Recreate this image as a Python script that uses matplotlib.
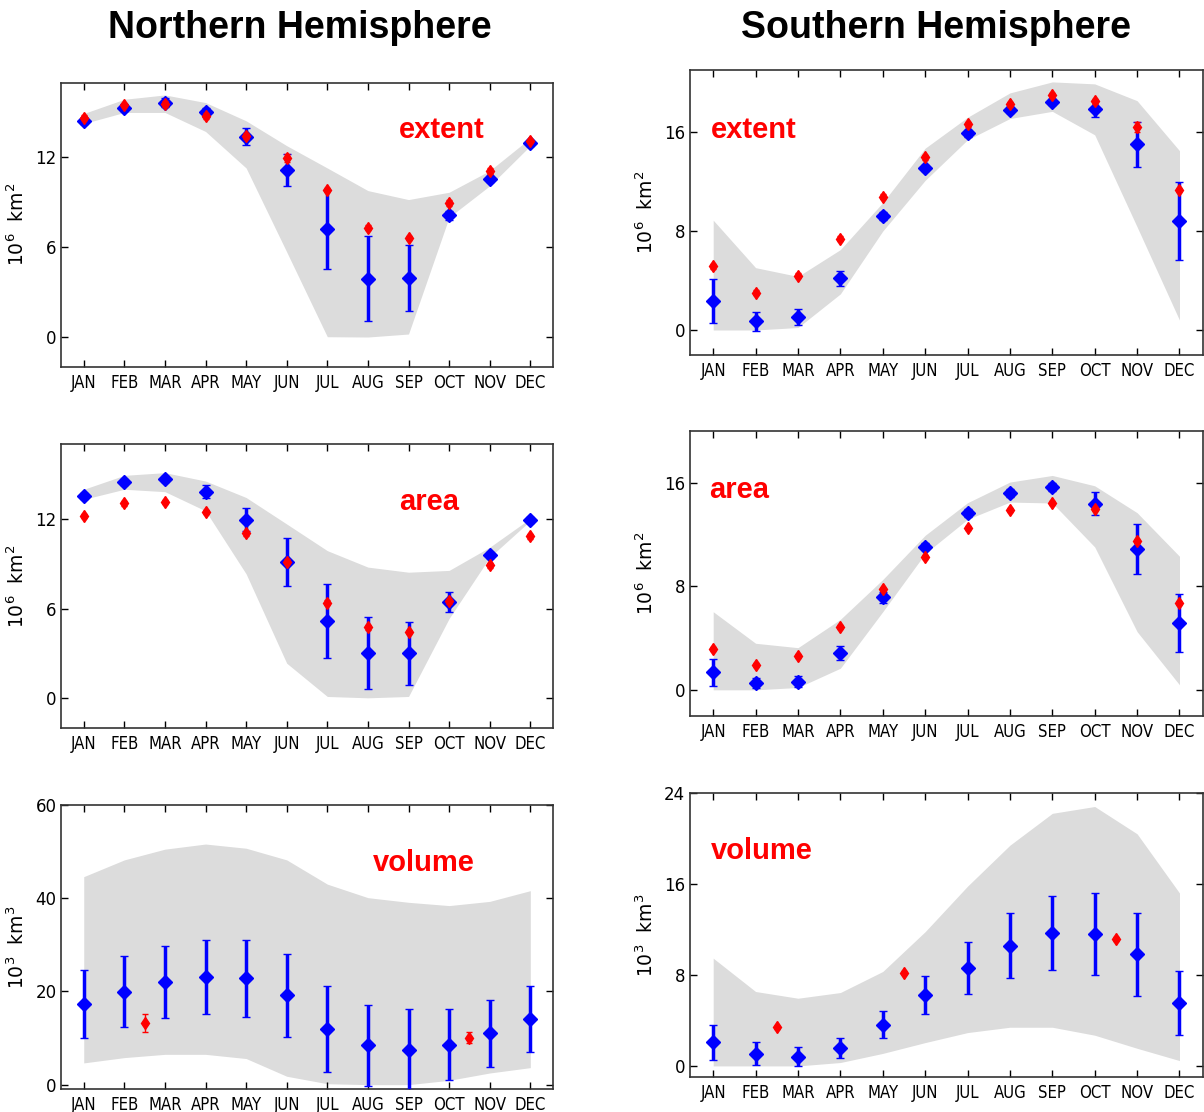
import numpy as np
import matplotlib
matplotlib.use('Agg')
import matplotlib.pyplot as plt
from matplotlib import font_manager
from matplotlib.font_manager import FontProperties

MONTHS = ['JAN', 'FEB', 'MAR', 'APR', 'MAY', 'JUN',
          'JUL', 'AUG', 'SEP', 'OCT', 'NOV', 'DEC']
MONTH_X = np.arange(1, 13)

# Northern Hemisphere extent (10^6 km^2)
nh_ext_lo = [14.26, 15.0, 15.0, 13.73, 11.29, 5.68, 0.02, 0.0, 0.2, 8.0, 10.1, 12.78]
nh_ext_hi = [14.93, 15.88, 16.17, 15.66, 14.44, 12.78, 11.29, 9.78, 9.18, 9.67, 11.11, 13.29]
nh_ext_mean = [14.44, 15.33, 15.64, 15.0, 13.38, 11.16, 7.19, 3.9, 3.97, 8.12, 10.56, 12.95]
nh_ext_std = [0.2, 0.25, 0.3, 0.3, 0.58, 1.09, 2.66, 2.83, 2.2, 0.3, 0.2, 0.2]
nh_ext_obs = [14.66, 15.5, 15.55, 14.77, 13.44, 11.96, 9.83, 7.3, 6.63, 8.96, 11.11, 13.11]
nh_ext_obs_err = [0.15, 0.15, 0.2, 0.2, 0.2, 0.25, 0.15, 0.15, 0.15, 0.2, 0.2, 0.15]

# Southern Hemisphere extent (10^6 km^2)
sh_ext_lo = [0.0, 0.0, 0.2, 2.92, 8.0, 12.1, 15.38, 17.1, 17.68, 15.78, 8.34, 0.8]
sh_ext_hi = [8.88, 5.04, 4.33, 6.5, 10.3, 14.7, 17.2, 19.17, 20.06, 19.9, 18.54, 14.5]
sh_ext_mean = [2.33, 0.7, 1.08, 4.17, 9.23, 13.07, 15.89, 17.76, 18.46, 17.87, 15.0, 8.8]
sh_ext_std = [1.76, 0.77, 0.65, 0.62, 0.3, 0.25, 0.25, 0.25, 0.25, 0.65, 1.8, 3.14]
sh_ext_obs = [5.17, 3.03, 4.39, 7.39, 10.77, 13.97, 16.65, 18.27, 18.98, 18.49, 16.4, 11.32]
sh_ext_obs_err = [0.2, 0.2, 0.2, 0.2, 0.2, 0.2, 0.2, 0.2, 0.2, 0.2, 0.4, 0.2]

# Northern Hemisphere area (10^6 km^2)
nh_area_lo = [13.3, 13.97, 13.81, 12.53, 8.32, 2.35, 0.13, 0.04, 0.13, 5.34, 9.43, 11.87]
nh_area_hi = [13.97, 14.9, 15.08, 14.52, 13.42, 11.65, 9.87, 8.77, 8.43, 8.55, 10.1, 12.02]
nh_area_mean = [13.53, 14.46, 14.63, 13.81, 11.95, 9.1, 5.16, 3.01, 3.01, 6.44, 9.56, 11.91]
nh_area_std = [0.2, 0.2, 0.2, 0.44, 0.75, 1.6, 2.49, 2.4, 2.12, 0.69, 0.2, 0.2]
nh_area_obs = [12.2, 13.02, 13.13, 12.46, 11.02, 9.14, 6.4, 4.74, 4.45, 6.49, 8.88, 10.83]
nh_area_obs_err = [0.15] * 12

# Southern Hemisphere area (10^6 km^2)
sh_area_lo = [0.0, 0.0, 0.18, 1.67, 6.04, 10.54, 13.19, 14.52, 14.45, 11.05, 4.5, 0.39]
sh_area_hi = [6.04, 3.6, 3.26, 5.45, 8.53, 11.95, 14.47, 16.07, 16.58, 15.78, 13.7, 10.33]
sh_area_mean = [1.34, 0.51, 0.64, 2.83, 7.15, 11.08, 13.65, 15.25, 15.66, 14.4, 10.9, 5.14]
sh_area_std = [1.03, 0.4, 0.4, 0.54, 0.4, 0.3, 0.3, 0.3, 0.3, 0.9, 1.93, 2.25]
sh_area_obs = [3.14, 1.9, 2.6, 4.88, 7.76, 10.28, 12.54, 13.93, 14.47, 13.96, 11.52, 6.74]
sh_area_obs_err = [0.15] * 12

# Northern Hemisphere volume (10^3 km^3)
nh_vol_lo = [4.66, 5.8, 6.5, 6.5, 5.6, 1.8, 0.2, 0.0, 0.0, 0.93, 2.5, 3.65]
nh_vol_hi = [44.6, 48.2, 50.5, 51.6, 50.7, 48.2, 43.0, 40.1, 39.1, 38.4, 39.3, 41.6]
nh_vol_mean = [17.3, 19.9, 22.0, 23.1, 22.8, 19.2, 12.0, 8.4, 7.5, 8.6, 11.0, 14.1]
nh_vol_std = [7.3, 7.6, 7.8, 7.95, 8.2, 8.9, 9.2, 8.6, 8.7, 7.7, 7.15, 7.05]
nh_vol_obs_x = [2.5, 10.5]
nh_vol_obs = [13.25, 10.1]
nh_vol_obs_err = [1.86, 1.25]

# Southern Hemisphere volume (10^3 km^3)
sh_vol_lo = [0.0, 0.0, 0.0, 0.3, 1.1, 2.05, 2.93, 3.4, 3.4, 2.7, 1.55, 0.47]
sh_vol_hi = [9.47, 6.54, 5.95, 6.45, 8.3, 11.8, 15.8, 19.4, 22.2, 22.8, 20.4, 15.2]
sh_vol_mean = [2.08, 1.06, 0.8, 1.55, 3.64, 6.22, 8.6, 10.56, 11.67, 11.6, 9.8, 5.51]
sh_vol_std = [1.54, 1.0, 0.85, 0.88, 1.17, 1.7, 2.27, 2.86, 3.25, 3.6, 3.62, 2.8]
sh_vol_obs_x = [2.5, 5.5, 10.5]
sh_vol_obs = [3.4, 8.2, 11.17]
sh_vol_obs_err = [0.15, 0.15, 0.15]


def month_font():
    # the month labels in the original are a condensed DejaVu
    for f in font_manager.fontManager.ttflist:
        if f.fname.endswith('DejaVuSansCondensed.ttf'):
            return FontProperties(fname=f.fname, size=12)
    names = {f.name for f in font_manager.fontManager.ttflist}
    if 'Liberation Sans Narrow' in names:
        return FontProperties(family='Liberation Sans Narrow', size=12)
    return FontProperties(family='DejaVu Sans', size=9)


def draw_panel(ax, lo, hi, mean, std, obs_x, obs, obs_err,
               ylim, yticks, ylabel, label, label_x, label_y):
    ax.fill_between(MONTH_X, lo, hi, color='#dcdcdc', linewidth=0, zorder=1)
    ax.errorbar(MONTH_X, mean, yerr=std, fmt='D', color='blue', ms=7.5,
                mec='blue', elinewidth=2.5, capsize=3, capthick=1, zorder=3)
    ax.errorbar(obs_x, obs, yerr=obs_err, fmt='d', color='red', ms=6.5,
                mec='red', elinewidth=1, capsize=2.5, capthick=1, zorder=4)
    ax.set_xlim(0.45, 12.55)
    ax.set_ylim(*ylim)
    ax.set_yticks(yticks)
    ax.set_xticks(MONTH_X)
    ax.set_xticklabels(MONTHS, fontproperties=mfont)
    ax.tick_params(direction='in', top=True, right=True, length=5, width=1,
                   labelsize=12, colors='black')
    ax.tick_params(axis='x', pad=5)
    for s in ax.spines.values():
        s.set_linewidth(1.2)
        s.set_color('#333333')
    ax.set_ylabel(ylabel, fontsize=13.5, labelpad=5)
    ax.text(label_x, label_y, label, transform=ax.transAxes, color='red',
            fontsize=21, fontweight='bold', family='Liberation Sans',
            ha='left', va='center')


mfont = month_font()
fig = plt.figure(figsize=(12.04, 11.12), dpi=100)

area_lbl = '10$^6$  km$^2$'
vol_lbl = '10$^3$  km$^3$'

ax = fig.add_axes([0.051, 0.670, 0.408, 0.2558])
draw_panel(ax, nh_ext_lo, nh_ext_hi, nh_ext_mean, nh_ext_std,
           MONTH_X, nh_ext_obs, nh_ext_obs_err,
           (-2, 17), [0, 6, 12], area_lbl, 'extent', 0.687, 0.832)

ax = fig.add_axes([0.573, 0.681, 0.426, 0.2558])
draw_panel(ax, sh_ext_lo, sh_ext_hi, sh_ext_mean, sh_ext_std,
           MONTH_X, sh_ext_obs, sh_ext_obs_err,
           (-2, 21), [0, 8, 16], area_lbl, 'extent', 0.041, 0.79)

ax = fig.add_axes([0.051, 0.345, 0.408, 0.2558])
draw_panel(ax, nh_area_lo, nh_area_hi, nh_area_mean, nh_area_std,
           MONTH_X, nh_area_obs, nh_area_obs_err,
           (-2, 17), [0, 6, 12], area_lbl, 'area', 0.687, 0.796)

ax = fig.add_axes([0.573, 0.3564, 0.426, 0.2558])
draw_panel(ax, sh_area_lo, sh_area_hi, sh_area_mean, sh_area_std,
           MONTH_X, sh_area_obs, sh_area_obs_err,
           (-2, 20), [0, 8, 16], area_lbl, 'area', 0.037, 0.794)

ax = fig.add_axes([0.051, 0.0204, 0.408, 0.2558])
draw_panel(ax, nh_vol_lo, nh_vol_hi, nh_vol_mean, nh_vol_std,
           nh_vol_obs_x, nh_vol_obs, nh_vol_obs_err,
           (-1, 60), [0, 20, 40, 60], vol_lbl, 'volume', 0.634, 0.796)

ax = fig.add_axes([0.573, 0.0312, 0.426, 0.2558])
draw_panel(ax, sh_vol_lo, sh_vol_hi, sh_vol_mean, sh_vol_std,
           sh_vol_obs_x, sh_vol_obs, sh_vol_obs_err,
           (-1, 24), [0, 8, 16, 24], vol_lbl, 'volume', 0.041, 0.796)

fig.text(0.249, 0.975, 'Northern Hemisphere', ha='center', va='center',
         fontsize=27, fontweight='bold', family='Liberation Sans')
fig.text(0.777, 0.975, 'Southern Hemisphere', ha='center', va='center',
         fontsize=27, fontweight='bold', family='Liberation Sans')

fig.savefig('out.png', dpi=100)
plt.close(fig)
